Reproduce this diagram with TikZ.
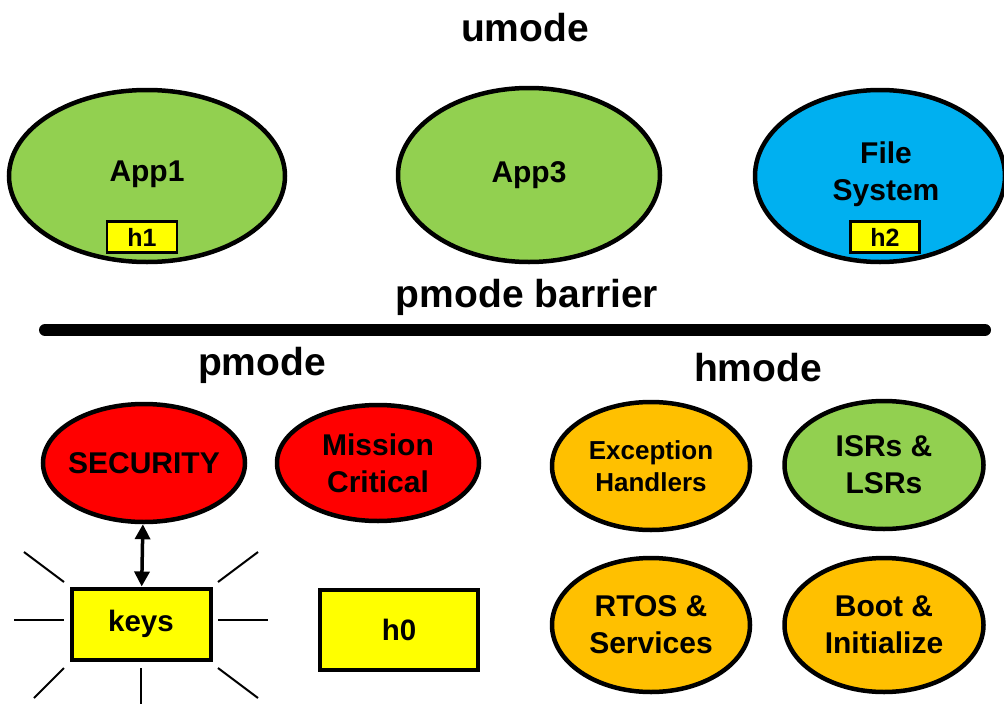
\documentclass[tikz,border=0pt]{standalone}
\usepackage{fontspec}
\setmainfont{Liberation Sans}
\usetikzlibrary{shapes.geometric,arrows.meta}
\definecolor{cgreen}{HTML}{92D050}
\definecolor{cblue}{HTML}{00B0F0}
\definecolor{cred}{HTML}{FF0000}
\definecolor{corange}{HTML}{FFC000}
\definecolor{cyellow}{HTML}{FFFF00}
\tikzset{
  oval/.style={ellipse, draw=black, line width=4.5pt, inner sep=0pt, align=center,
    font=\fontsize{30}{37}\selectfont\bfseries},
  tag/.style={rectangle, draw=black, fill=cyellow, line width=2.5pt, inner sep=0pt,
    font=\fontsize{25}{25}\selectfont\bfseries},
  bigbox/.style={rectangle, draw=black, fill=cyellow, line width=4pt, inner sep=0pt,
    font=\fontsize{29.5}{29.5}\selectfont\bfseries},
  title/.style={font=\fontsize{39}{39}\selectfont\bfseries, inner sep=0pt},
  ray/.style={line width=2pt, black},
}
\begin{document}
\begin{tikzpicture}[x=1pt,y=-1pt]
\useasboundingbox (0,0) rectangle (1004,704);
% titles
\node[title] (umode) at (525,28) {umode};
\node[title] (barrier) at (527,297) {pmode barrier};
\node[title] (pmode) at (262,365) {pmode};
\node[title] (hmode) at (758,368) {hmode};
% barrier line
\draw[line width=12pt, line cap=round] (45,330) -- (985,330);
% umode ellipses
\node[oval, fill=cgreen, minimum width=276pt, minimum height=172pt] (app1) at (147,176) {};
\node[font=\fontsize{30}{37}\selectfont\bfseries] (app1t) at (147,174) {App1};
\node[tag, minimum width=70pt, minimum height=31pt] (h1) at (142,237) {h1};
\node[oval, fill=cgreen, minimum width=262pt, minimum height=174pt] (app3) at (529,175) {App3};
\node[oval, fill=cblue, minimum width=250pt, minimum height=172pt] (fs) at (880,176) {};
\node[font=\fontsize{30}{37}\selectfont\bfseries, align=center] (fst) at (886,174) {File\\System};
\node[tag, minimum width=69pt, minimum height=31pt] (h2) at (885,237) {h2};
% pmode
\node[oval, fill=cred, minimum width=202pt, minimum height=118pt, inner xsep=-14pt] (sec) at (144,463) {SECURITY};
\node[oval, fill=cred, minimum width=202pt, minimum height=116pt] (mc) at (378,463) {Mission\\Critical};
\node[bigbox, minimum width=139pt, minimum height=71pt] (keys) at (141,624) {keys};
\node[bigbox, minimum width=158pt, minimum height=80pt] (h0) at (399,630) {h0};
\draw[line width=3.5pt, {Triangle[length=15pt,width=15pt]}-{Triangle[length=15pt,width=15pt]}] (sec) -- (keys);
% rays
\draw[ray] (14,620) -- (64,620);
\draw[ray] (218,620) -- (268,620);
\draw[ray] (24,552) -- (64,582);
\draw[ray] (218,582) -- (258,552);
\draw[ray] (64,668) -- (34,698);
\draw[ray] (218,668) -- (258,698);
\draw[ray] (141,668) -- (141,704);
% hmode
\node[oval, fill=corange, minimum width=198pt, minimum height=128pt,
  font=\fontsize{26}{32}\selectfont\bfseries] (exc) at (651,466) {Exception\\Handlers};
\node[oval, fill=cgreen, minimum width=199pt, minimum height=128pt] (isr) at (884,465) {ISRs \&\\LSRs};
\node[oval, fill=corange, minimum width=198pt, minimum height=134pt] (rtos) at (651,625) {RTOS \&\\Services};
\node[oval, fill=corange, minimum width=199pt, minimum height=134pt] (boot) at (884,625) {Boot \&\\Initialize};
\end{tikzpicture}
\end{document}
